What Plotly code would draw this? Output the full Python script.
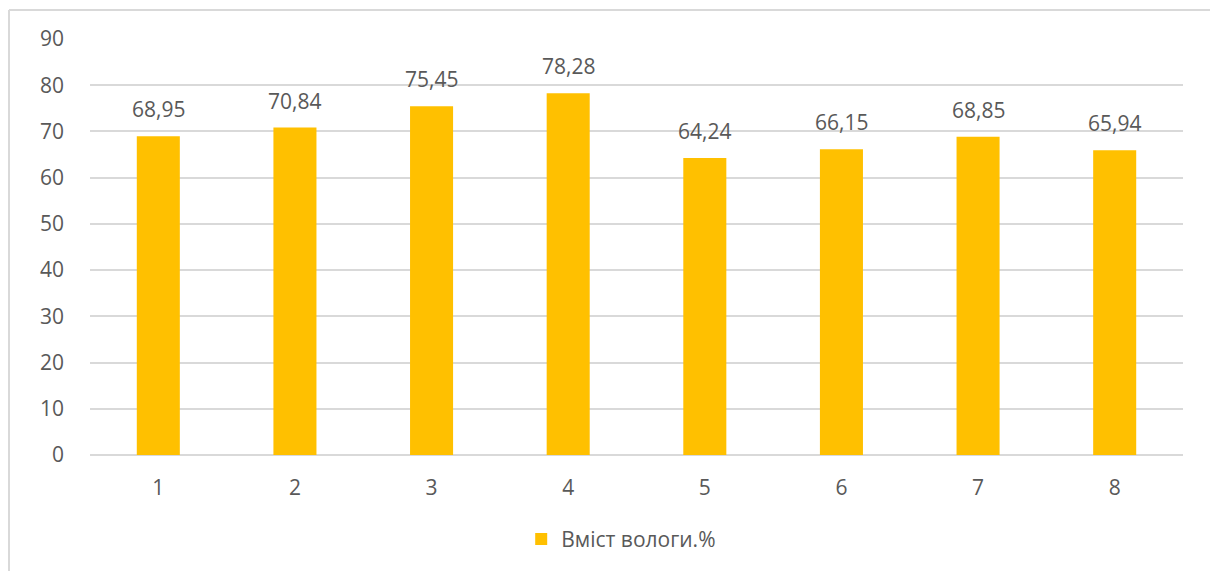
import plotly.graph_objects as go

# Sample numbers and measured moisture content (%)
samples = ["1", "2", "3", "4", "5", "6", "7", "8"]
moisture = [68.95, 70.84, 75.45, 78.28, 64.24, 66.15, 68.85, 65.94]
labels = ["68,95", "70,84", "75,45", "78,28", "64,24", "66,15", "68,85", "65,94"]
y_ticks = [0, 10, 20, 30, 40, 50, 60, 70, 80, 90]
series_name = "Вміст вологи.%"

BAR = "#FFC000"
GRID = "#D9D9D9"
TEXT = "#595959"
FONT = "Open Sans, Noto Sans, sans-serif"

fig = go.Figure()
fig.add_trace(go.Bar(
    x=samples,
    y=moisture,
    name=series_name,
    marker=dict(color=BAR, line=dict(width=0)),
    width=0.315,
    showlegend=True,
))

# Value labels above each bar (category axis positions are 0-based indices)
for i, (v, t) in enumerate(zip(moisture, labels)):
    fig.add_annotation(
        x=i, y=v, text=t, showarrow=False,
        yanchor="bottom", yshift=11,
        font=dict(family=FONT, size=21, color=TEXT),
    )

# Chart frame (top and left edges)
x0 = (9 - 90) / 1093
y_top = (456 - 10) / 417
fig.add_shape(type="line", xref="paper", yref="paper",
              x0=x0, x1=1.2, y0=y_top, y1=y_top,
              line=dict(color=GRID, width=2))
fig.add_shape(type="line", xref="paper", yref="paper",
              x0=x0, x1=x0, y0=y_top, y1=-0.5,
              line=dict(color=GRID, width=2))

fig.update_layout(
    width=1210, height=571,
    margin=dict(l=90, r=27, t=39, b=115),
    paper_bgcolor="white",
    plot_bgcolor="white",
    font=dict(family=FONT, size=21, color=TEXT),
    legend=dict(
        orientation="h",
        x=0.486, xanchor="center",
        y=-0.2, yanchor="middle",
        font=dict(family=FONT, size=21, color=TEXT),
        itemwidth=30,
    ),
    xaxis=dict(
        type="category",
        showgrid=False,
        showline=False,
        zeroline=False,
        ticks="",
        ticklabelstandoff=18,
        tickfont=dict(family=FONT, size=21, color=TEXT),
    ),
    yaxis=dict(
        range=[0, 90],
        tickvals=y_ticks,
        showgrid=True,
        gridcolor=GRID,
        gridwidth=2,
        zeroline=True,
        zerolinecolor=GRID,
        zerolinewidth=2,
        showline=False,
        ticks="",
        ticklabelstandoff=25,
        tickfont=dict(family=FONT, size=21, color=TEXT),
    ),
)

fig.write_html("out.html")
